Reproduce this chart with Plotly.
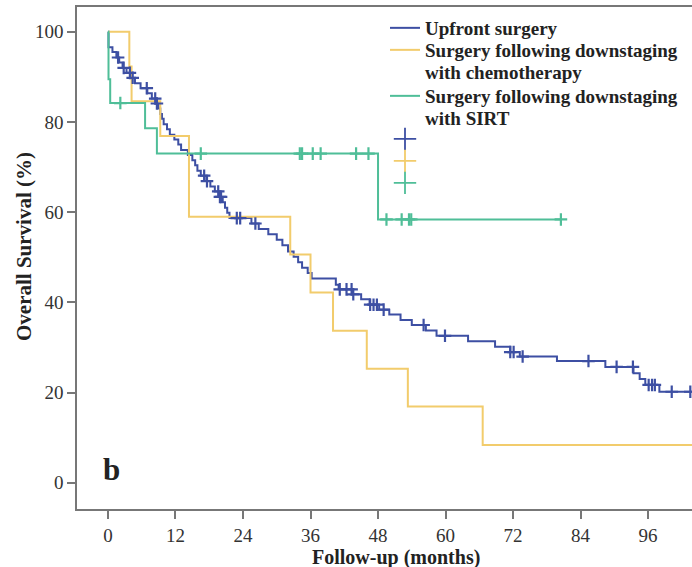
import plotly.graph_objects as go

# ---- data ----
# Upfront surgery: step times (months) and survival (%) after each step
up_t = [0, 0.1, 0.8, 1.5, 2.0, 2.6, 3.3, 4.2, 4.8, 5.8, 7.0, 7.8, 8.6, 9.0, 9.3, 9.6, 9.9,
        10.5, 11.0, 11.8, 12.5, 13.0, 14.2, 15.0, 15.5, 15.9, 16.5, 17.5, 18.2, 19.0, 19.8,
        20.4, 20.8, 21.2, 21.6, 25.5, 26.8, 28.5, 30.0, 31.0, 32.0, 33.0, 33.8, 34.5, 35.5,
        36.2, 40.5, 41.0, 43.5, 45.0, 46.5, 48.2, 50.0, 52.0, 54.0, 56.5, 58.4, 64.0, 68.8,
        71.5, 73.2, 79.8, 88.4, 93.4, 94.5, 95.5, 98.0, 110]
up_s = [100, 96.6, 95.5, 94.3, 93.2, 92.0, 90.9, 89.8, 88.6, 87.5, 86.4, 85.2, 84.1, 83.0, 81.8, 80.7, 79.5,
        78.4, 77.2, 76.1, 75.0, 73.8, 72.7, 71.5, 70.4, 69.2, 68.1, 66.9, 65.7, 64.6, 63.4,
        62.2, 61.0, 59.9, 58.7, 57.5, 56.3, 55.1, 53.9, 52.7, 51.3, 50.1, 48.9, 47.7, 46.5,
        45.3, 43.9, 42.9, 41.8, 40.7, 39.5, 38.4, 37.3, 36.1, 35.0, 33.8, 32.6, 31.4, 30.2,
        29.0, 28.0, 27.0, 25.7, 24.3, 23.0, 21.7, 20.2, 20.2]
up_cens = [1.8, 2.8, 3.9, 4.4, 6.9, 8.4, 8.7, 17.1, 17.6, 19.6, 19.9, 20.1, 22.9, 23.5, 26.2,
           41.2, 42.4, 43.3, 43.6, 46.6, 47.2, 47.8, 49.0, 56.1, 59.9, 71.5, 72.1, 73.7,
           85.4, 90.4, 93.3, 96.1, 96.7, 97.2, 100.2, 103.5]

# Surgery following downstaging with chemotherapy
ch_t = [0, 3.8, 4.2, 9.3, 14.4, 32.4, 36.0, 40.0, 46.0, 53.3, 66.6, 110]
ch_s = [100, 92.3, 84.6, 76.9, 59.0, 50.6, 42.2, 33.7, 25.3, 16.9, 8.4, 8.4]

# Surgery following downstaging with SIRT
si_t = [0, 0.1, 0.4, 6.6, 8.7, 48.0, 80.5]
si_s = [100, 89.5, 84.2, 78.6, 73.0, 58.4, 58.4]
si_cens = [2.2, 16.5, 34.1, 34.5, 36.4, 37.8, 44.1, 46.3, 49.5, 52.2, 53.5, 53.9, 80.5]

names = ["Upfront surgery", "Surgery following downstaging", "Surgery following downstaging"]
names2 = ["with chemotherapy", "with SIRT"]
colors = ["#3D4FA3", "#F2CC6C", "#4FBE98"]

x_ticks = [0, 12, 24, 36, 48, 60, 72, 84, 96]
y_ticks = [0, 20, 40, 60, 80, 100]


def surv_at(ts, ss, t):
    v = ss[0]
    for ti, si in zip(ts, ss):
        if ti <= t:
            v = si
    return v


SERIF = "Liberation Serif"
L, T, PW, PH = 77, 7, 615, 502  # plot-area pixel geometry


def px_x(p):
    return (p - L) / PW


def px_y(p):
    return 1 - (p - T) / PH


fig = go.Figure()

# survival curves
curves = [(up_t, up_s), (ch_t, ch_s), (si_t, si_s)]
for (ts, ss), nm, col in zip(curves, names, colors):
    fig.add_trace(go.Scatter(x=ts, y=ss, mode="lines", line=dict(color=col, width=2, shape="hv"),
                             name=nm, showlegend=False))

# censor marks
cens = [(up_t, up_s, up_cens), (si_t, si_s, si_cens)]
for (ts, ss, cs), col in zip(cens, [colors[0], colors[2]]):
    fig.add_trace(go.Scatter(x=cs, y=[surv_at(ts, ss, c) for c in cs], mode="markers", showlegend=False,
                             marker=dict(symbol="cross-thin", size=9, color=col,
                                         line=dict(color=col, width=2.2))))

# legend entries (one small legend per line of the key)
legend_items = [
    (names[0], colors[0], "line"),
    (names[1], colors[1], "line"),
    (names2[0], None, "line"),
    (names[2], colors[2], "line"),
    (names2[1], None, "line"),
    (" ", colors[0], "marker"),
    (" ", colors[1], "marker"),
    (" ", colors[2], "marker"),
]
legend_y = [28, 50, 72, 96, 118, 139, 161, 183]
layout_legends = {}
for i, ((nm, col, kind), yy) in enumerate(zip(legend_items, legend_y)):
    key = "legend" if i == 0 else f"legend{i + 1}"
    if kind == "line":
        fig.add_trace(go.Scatter(x=[None], y=[None], mode="lines", name=nm, legend=key,
                                 line=dict(color=col if col else "rgba(0,0,0,0)", width=2 if col else 0)))
    else:
        fig.add_trace(go.Scatter(x=[None], y=[None], mode="markers", name=nm, legend=key,
                                 marker=dict(symbol="cross-thin", size=16, color=col,
                                             line=dict(color=col, width=1.8))))
    layout_legends[key] = dict(x=px_x(385), y=px_y(yy), xref="paper", yref="paper",
                               xanchor="left", yanchor="middle", bgcolor="rgba(0,0,0,0)",
                               font=dict(family=SERIF, size=19, color="#222", weight="bold"))

fig.add_annotation(x=-1.2, y=3, xref="x", yref="y", text="b", showarrow=False,
                   xanchor="left", yanchor="middle",
                   font=dict(family=SERIF, size=31, color="#222", weight="bold"))
fig.add_annotation(x=px_x(396), y=px_y(557), xref="paper", yref="paper",
                   text="Follow-up (months)", showarrow=False, yanchor="middle",
                   font=dict(family=SERIF, size=20, color="#222", weight="bold"))
fig.add_annotation(x=px_x(24), y=px_y(247), xref="paper", yref="paper",
                   text="Overall Survival (%)", showarrow=False, textangle=-90,
                   xanchor="center", yanchor="middle",
                   font=dict(family=SERIF, size=21, color="#222", weight="bold"))

fig.update_layout(
    width=692, height=567,
    margin=dict(l=L, r=692 - L - PW, t=T, b=567 - T - PH),
    paper_bgcolor="white", plot_bgcolor="white",
    showlegend=True,
    **layout_legends,
)
fig.update_xaxes(range=[-5.5, 103.8], tickvals=x_ticks, ticks="outside", ticklen=8, tickwidth=1.5,
                 tickcolor="#777", showline=True, linecolor="#777", linewidth=1.5, mirror=True,
                 showgrid=False, zeroline=False,
                 tickfont=dict(family=SERIF, size=19, color="#333"))
fig.update_yaxes(range=[-5.8, 105.5], tickvals=y_ticks, ticks="outside", ticklen=8, tickwidth=1.5,
                 tickcolor="#777", showline=True, linecolor="#777", linewidth=1.5,
                 showgrid=False, zeroline=False,
                 tickfont=dict(family=SERIF, size=19, color="#333"))

fig.write_html("out.html")
